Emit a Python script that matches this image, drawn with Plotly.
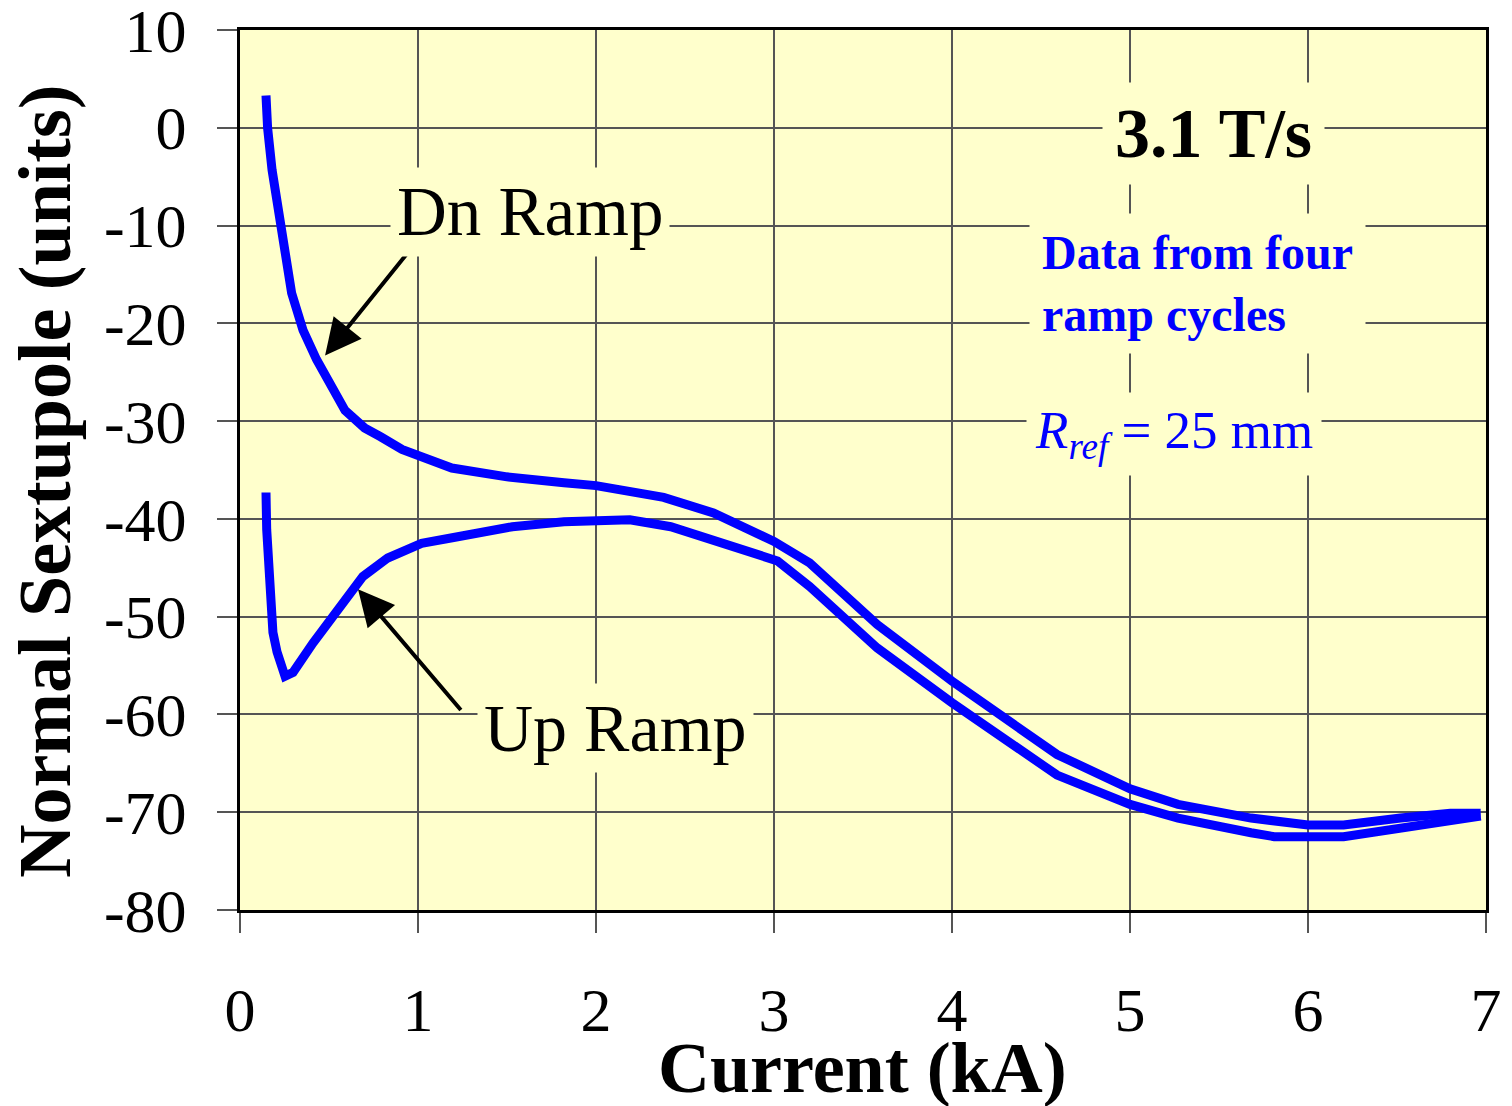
import plotly.graph_objects as go

# Dn ramp (upper branch)
dn_current = [0.146, 0.155, 0.18, 0.225, 0.29, 0.354, 0.43, 0.59, 0.70, 0.79, 0.91, 1.19, 1.5, 1.82, 2.0,
              2.38, 2.66, 3.0, 3.2, 3.58, 4.0, 4.59, 5.0, 5.27, 5.68, 6.0, 6.2, 6.52, 6.8, 6.97]
dn_sext = [3.3, 0.0, -4.3, -10.1, -16.9, -20.7, -23.7, -28.9, -30.7, -31.6, -32.9, -34.8, -35.7, -36.3, -36.6,
           -37.8, -39.4, -42.3, -44.5, -50.8, -56.6, -64.1, -67.6, -69.2, -70.6, -71.3, -71.3, -70.6, -70.1, -70.1]

# Up ramp (lower branch)
up_current = [0.146, 0.15, 0.185, 0.208, 0.253, 0.298, 0.41, 0.545, 0.69, 0.83, 1.02, 1.2, 1.53, 1.82, 2.0,
              2.19, 2.42, 2.75, 3.02, 3.2, 3.58, 4.0, 4.59, 5.0, 5.27, 5.68, 5.81, 6.2, 6.52, 6.84, 6.97]
up_sext = [-37.3, -41.1, -51.6, -53.6, -56.1, -55.7, -52.7, -49.3, -45.9, -44.0, -42.5, -41.9, -40.8, -40.3, -40.1,
           -40.1, -40.8, -42.6, -44.3, -46.9, -53.2, -58.8, -66.2, -69.2, -70.6, -72.1, -72.5, -72.5, -71.6, -70.7, -70.4]

x_ticks = [0, 1, 2, 3, 4, 5, 6, 7]
y_ticks = [10, 0, -10, -20, -30, -40, -50, -60, -70, -80]

BG = "#FFFFCC"
BLUE = "#0000FF"
SERIF = "Liberation Serif, Times New Roman, serif"

fig = go.Figure()
fig.add_trace(go.Scatter(x=dn_current, y=dn_sext, mode="lines", name="Dn Ramp",
                         line=dict(color=BLUE, width=9), showlegend=False))
fig.add_trace(go.Scatter(x=up_current, y=up_sext, mode="lines", name="Up Ramp",
                         line=dict(color=BLUE, width=9), showlegend=False))

# arrows
fig.add_annotation(x=0.478, y=-23.3, ax=0.956, ay=-12.47, xref="x", yref="y", axref="x", ayref="y",
                   text="", showarrow=True, arrowhead=2, arrowsize=1.8, arrowwidth=4, arrowcolor="black")
fig.add_annotation(x=0.663, y=-47.2, ax=1.248, ay=-59.7, xref="x", yref="y", axref="x", ayref="y",
                   text="", showarrow=True, arrowhead=2, arrowsize=1.8, arrowwidth=4, arrowcolor="black")
# labels
fig.add_annotation(x=1.63, y=-8.6, xref="x", yref="y", text="Dn Ramp", showarrow=False,
                   font=dict(family=SERIF, size=69, color="black"), bgcolor=BG, borderpad=6)
fig.add_annotation(x=2.108, y=-61.4, xref="x", yref="y", text="Up Ramp", showarrow=False,
                   font=dict(family=SERIF, size=68, color="black"), bgcolor=BG, borderpad=6)
fig.add_annotation(x=5.47, y=-0.6, xref="x", yref="y", text="<b>3.1 T/s</b>", showarrow=False,
                   font=dict(family=SERIF, size=70, color="black"), bgcolor=BG, borderpad=12)
fig.add_annotation(x=4.435, y=-15.9, xref="x", yref="y", xanchor="left",
                   text="<b>Data from four</b><br><b>ramp cycles</b>", align="left", showarrow=False,
                   font=dict(family=SERIF, size=48, color=BLUE), bgcolor=BG, borderpad=12)
fig.add_annotation(x=4.413, y=-31.3, xref="x", yref="y", xanchor="left",
                   text="<i>R<sub>ref</sub></i> = 25 mm", showarrow=False,
                   font=dict(family=SERIF, size=53, color=BLUE), bgcolor=BG, borderpad=8)
# axis titles
fig.add_annotation(x=(862 - 240) / 1246, y=-(1068 - 910) / 880, xref="paper", yref="paper",
                   xanchor="center", yanchor="middle",
                   text="<b>Current (kA)</b>", showarrow=False,
                   font=dict(family=SERIF, size=72, color="black"))
fig.add_annotation(x=-(240 - 45) / 1246, y=(910 - 482) / 880, xref="paper", yref="paper",
                   xanchor="center", yanchor="middle",
                   text="<b>Normal Sextupole (units)</b>", showarrow=False, textangle=-90,
                   font=dict(family=SERIF, size=74, color="black"))

fig.update_xaxes(range=[0, 7], tickvals=x_ticks, ticktext=[str(v) for v in x_ticks],
                 showgrid=True, gridcolor="#555555", gridwidth=1.5,
                 showline=True, linecolor="black", linewidth=3, mirror=True,
                 ticks="outside", ticklen=20, tickcolor="#555555", tickwidth=1.5,
                 ticklabelstandoff=24, ticklabeloverflow="allow",
                 tickfont=dict(family=SERIF, size=62, color="black"), zeroline=False)
fig.update_yaxes(range=[-80, 10], tickvals=y_ticks, ticktext=[str(v) for v in y_ticks],
                 showgrid=True, gridcolor="#555555", gridwidth=1.5,
                 showline=True, linecolor="black", linewidth=3, mirror=True,
                 ticks="outside", ticklen=20, tickcolor="#555555", tickwidth=1.5,
                 ticklabelstandoff=18, ticklabeloverflow="allow",
                 tickfont=dict(family=SERIF, size=62, color="black"), zeroline=False)

fig.update_layout(width=1512, height=1106, margin=dict(l=240, r=26, t=30, b=196, autoexpand=False),
                  plot_bgcolor=BG, paper_bgcolor="white", showlegend=False)

fig.write_html("out.html")
